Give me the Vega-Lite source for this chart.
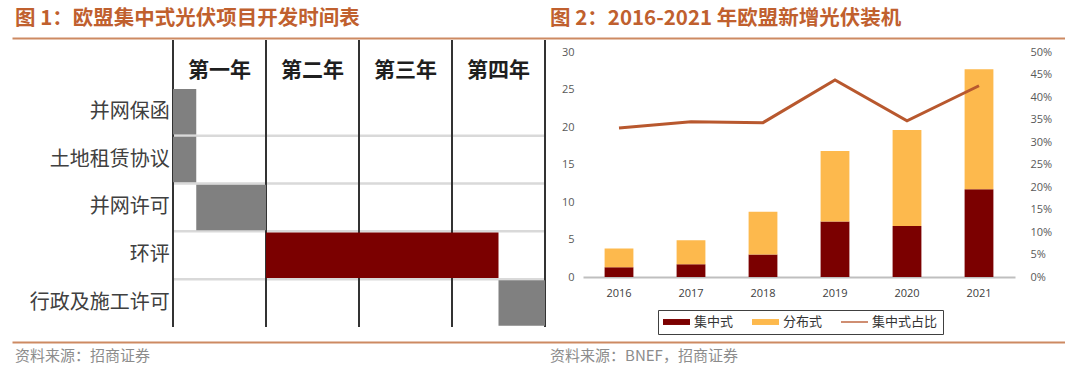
{
  "$schema": "https://vega.github.io/schema/vega-lite/v6.json",
  "padding": {"left": 12, "top": 0, "right": 0, "bottom": 0},
  "background": "white",
  "config": {
    "view": {"stroke": null},
    "font": "Noto Sans CJK SC",
    "text": {"font": "Noto Sans CJK SC"}
  },
  "datasets": {
    "titles": [
      {"panel": "L", "title": "图 1：欧盟集中式光伏项目开发时间表"},
      {"panel": "R", "title": "图 2：2016-2021 年欧盟新增光伏装机"}
    ],
    "sources": [
      {"panel": "L", "source": "资料来源：招商证券"},
      {"panel": "R", "source": "资料来源：BNEF，招商证券"}
    ],
    "tasks": [
      {"task": "并网保函", "start": 0, "end": 0.25, "phase": "手续"},
      {"task": "土地租赁协议", "start": 0, "end": 0.25, "phase": "手续"},
      {"task": "并网许可", "start": 0.25, "end": 1, "phase": "手续"},
      {"task": "环评", "start": 1, "end": 3.5, "phase": "环评"},
      {"task": "行政及施工许可", "start": 3.5, "end": 4, "phase": "手续"}
    ],
    "boundaries": [{"boundary": 0}, {"boundary": 1}, {"boundary": 2}, {"boundary": 3}, {"boundary": 4}],
    "years": [
      {"label": "第一年", "center": 0.5},
      {"label": "第二年", "center": 1.5},
      {"label": "第三年", "center": 2.5},
      {"label": "第四年", "center": 3.5}
    ],
    "capacity": [
      {"year": "2016", "type": "集中式", "value": 1.3},
      {"year": "2016", "type": "分布式", "value": 2.5},
      {"year": "2017", "type": "集中式", "value": 1.7},
      {"year": "2017", "type": "分布式", "value": 3.2},
      {"year": "2018", "type": "集中式", "value": 3.0},
      {"year": "2018", "type": "分布式", "value": 5.7},
      {"year": "2019", "type": "集中式", "value": 7.4},
      {"year": "2019", "type": "分布式", "value": 9.4},
      {"year": "2020", "type": "集中式", "value": 6.8},
      {"year": "2020", "type": "分布式", "value": 12.8},
      {"year": "2021", "type": "集中式", "value": 11.7},
      {"year": "2021", "type": "分布式", "value": 16.0}
    ],
    "share": [
      {"year": "2016", "share": 0.331},
      {"year": "2017", "share": 0.345},
      {"year": "2018", "share": 0.343},
      {"year": "2019", "share": 0.438},
      {"year": "2020", "share": 0.347},
      {"year": "2021", "share": 0.425}
    ]
  },
  "spacing": 1,
  "vconcat": [
    {
      "width": 1053,
      "height": 38,
      "data": {"name": "titles"},
      "mark": {"type": "text", "align": "left", "fontSize": 20.5, "fontWeight": "bold", "color": "#C0602E"},
      "encoding": {
        "x": {
          "field": "panel", "type": "nominal",
          "scale": {"type": "point", "domain": ["L", "R"], "padding": 0.484, "align": 0.0058},
          "axis": {"orient": "bottom", "domain": true, "domainColor": "#CD8A62", "domainWidth": 2, "ticks": false, "labels": false, "title": null, "grid": false}
        },
        "text": {"field": "title"}
      }
    },
    {
      "spacing": 7,
      "vconcat": [
        {
          "spacing": 14,
          "resolve": {"scale": {"color": "independent"}, "legend": {"color": "independent"}},
          "hconcat": [
            {
              "width": 533,
              "height": 287,
              "layer": [
                {
                  "data": {"name": "tasks"},
                  "transform": [{"filter": "datum.task !== '行政及施工许可'"}],
                  "mark": {"type": "rule", "color": "#D9D9D9", "strokeWidth": 2.5},
                  "encoding": {
                    "y": {"field": "task", "type": "nominal", "bandPosition": 1,
                      "scale": {"domain": ["表头", "并网保函", "土地租赁协议", "并网许可", "环评", "行政及施工许可"], "paddingInner": 0, "paddingOuter": 0},
                      "axis": null},
                    "x": {"datum": 0, "type": "quantitative", "scale": {"domain": [-1.7312, 4], "nice": false, "zero": false}, "axis": null},
                    "x2": {"datum": 4}
                  }
                },
                {
                  "data": {"name": "boundaries"},
                  "mark": {"type": "rule", "color": "#333333", "strokeWidth": 2},
                  "encoding": {
                    "x": {"field": "boundary", "type": "quantitative"}
                  }
                },
                {
                  "data": {"name": "tasks"},
                  "mark": {"type": "bar", "height": {"band": 0.95}},
                  "encoding": {
                    "y": {"field": "task", "type": "nominal"},
                    "x": {"field": "start", "type": "quantitative"},
                    "x2": {"field": "end"},
                    "color": {"field": "phase", "type": "nominal", "scale": {"domain": ["手续", "环评"], "range": ["#808080", "#7B0000"]}, "legend": null}
                  }
                },
                {
                  "data": {"name": "years"},
                  "mark": {"type": "text", "fontSize": 21, "fontWeight": "bold", "color": "#1F1F1F", "dy": 7},
                  "encoding": {
                    "x": {"field": "center", "type": "quantitative"},
                    "y": {"datum": "表头", "type": "nominal"},
                    "text": {"field": "label"}
                  }
                },
                {
                  "data": {"name": "tasks"},
                  "mark": {"type": "text", "align": "right", "fontSize": 20, "color": "#404040"},
                  "encoding": {
                    "x": {"datum": -0.035, "type": "quantitative"},
                    "y": {"field": "task", "type": "nominal"},
                    "text": {"field": "task"}
                  }
                }
              ]
            },
            {
              "width": 432,
              "height": 237,
              "layer": [
                {
                  "data": {"name": "capacity"},
                  "mark": {"type": "bar"},
                  "encoding": {
                    "x": {"field": "year", "type": "ordinal",
                      "scale": {"paddingInner": 0.6, "paddingOuter": 0.3},
                      "axis": {"title": null, "labelAngle": 0, "ticks": false, "domainColor": "#BFBFBF", "domainWidth": 2, "labelFont": "Open Sans", "labelFontSize": 11, "labelColor": "#404040", "labelPadding": 10}},
                    "y": {"field": "value", "type": "quantitative", "stack": "zero",
                      "scale": {"domain": [0, 31.6], "nice": false},
                      "axis": {"orient": "left", "title": null, "values": [0, 5, 10, 15, 20, 25, 30], "domain": false, "ticks": false, "grid": false, "labelFont": "Open Sans", "labelFontSize": 11, "labelColor": "#595959", "labelPadding": 9}},
                    "color": {"field": "type", "type": "nominal",
                      "scale": {"domain": ["集中式", "分布式", "集中式占比"], "range": ["#7B0000", "#FDB94D", "#B8582E"]},
                      "legend": {
                        "orient": "none", "legendX": 75, "legendY": 270, "direction": "horizontal", "title": null,
                        "strokeColor": "#404040", "padding": 5, "labelFontSize": 13, "labelColor": "#333333", "labelFont": "Noto Sans CJK SC",
                        "symbolType": "M-1,-0.22h2v0.44h-2z", "symbolSize": 729, "symbolStrokeWidth": 0, "columnPadding": 18, "labelOffset": 4, "clipHeight": 14,
                        "encode": {"symbols": {"update": {
                          "shape": {"signal": "datum.value === '集中式占比' ? 'M-1,-0.05h2v0.1h-2z' : 'M-1,-0.22h2v0.44h-2z'"},
                          "fill": {"signal": "datum.value === '集中式' ? '#7B0000' : datum.value === '分布式' ? '#FDB94D' : '#B8582E'"},
                          "opacity": {"value": 1}
                        }}}
                      }},
                    "order": {"field": "type", "sort": "descending"}
                  }
                },
                {
                  "data": {"name": "share"},
                  "mark": {"type": "line", "strokeWidth": 3},
                  "encoding": {
                    "x": {"field": "year", "type": "ordinal"},
                    "y": {"field": "share", "type": "quantitative",
                      "scale": {"domain": [0, 0.52667], "nice": false},
                      "axis": {"orient": "right", "title": null, "values": [0, 0.05, 0.1, 0.15, 0.2, 0.25, 0.3, 0.35, 0.4, 0.45, 0.5], "format": ".0%", "domain": false, "ticks": false, "grid": false, "labelFont": "Open Sans", "labelFontSize": 11, "labelColor": "#595959", "labelPadding": 15}},
                    "color": {"datum": "集中式占比"}
                  }
                }
              ],
              "resolve": {"scale": {"y": "independent"}}
            }
          ]
        },
        {
          "width": 1053,
          "height": 28,
          "data": {"name": "sources"},
          "mark": {"type": "text", "align": "left", "fontSize": 15, "color": "#8C8C8C"},
          "encoding": {
            "x": {
              "field": "panel", "type": "nominal",
              "scale": {"type": "point", "domain": ["L", "R"], "padding": 0.484, "align": 0.0058},
              "axis": {"orient": "top", "domain": true, "domainColor": "#CD8A62", "domainWidth": 2, "ticks": false, "labels": false, "title": null, "grid": false}
            },
            "text": {"field": "source"}
          }
        }
      ]
    }
  ]
}
